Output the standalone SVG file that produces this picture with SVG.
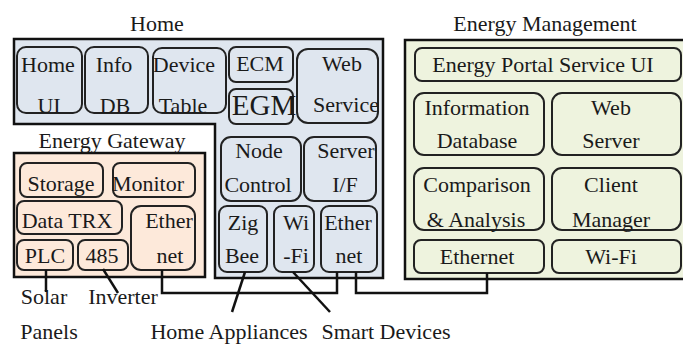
<svg xmlns="http://www.w3.org/2000/svg" width="683" height="345" viewBox="0 0 683 345">
<style>
.outer{stroke:#111;stroke-width:2.5}
.box{stroke:#222;stroke-width:2}
.home{fill:#dfe6ef}
.gw{fill:#fde9da}
.em{fill:#eef3de}
.conn{fill:none;stroke:#111;stroke-width:2.5}
</style>
<rect width="683" height="345" fill="#fff"/>
<g font-family="Liberation Serif" font-size="22" fill="#1a1a1a" text-anchor="middle">
<g id="home">
<path class="outer home" d="M14,39 H383 V278 H215 V124 H14 Z"/>
<text x="157" y="31">Home</text>
</g>
<g id="energy-gateway">
<rect class="outer gw" x="14" y="153" width="191" height="124"/>
<text x="112" y="148">Energy Gateway</text>
</g>
<g id="energy-management">
<rect class="outer em" x="405" y="40" width="280" height="239"/>
<text x="545" y="31">Energy Management</text>
</g>
<g id="home-ui"><rect class="box home" x="17" y="47" width="65" height="66" rx="9"/><text x="48" y="72">Home</text><text x="49" y="113">UI</text></g>
<g id="info-db"><rect class="box home" x="85" y="47" width="63" height="66" rx="9"/><text x="114" y="72">Info</text><text x="115" y="113">DB</text></g>
<g id="device-table"><rect class="box home" x="153" y="48" width="73" height="65" rx="9"/><text x="184" y="72">Device</text><text x="183" y="113">Table</text></g>
<g id="ecm"><rect class="box home" x="229" y="47" width="64" height="35" rx="7"/><text x="260" y="71">ECM</text></g>
<g id="egm"><rect class="box home" x="229" y="89" width="64" height="35" rx="7"/><text x="264" y="115" font-size="29">EGM</text></g>
<g id="web-service"><rect class="box home" x="297" y="49" width="81" height="74" rx="11"/><text x="342" y="71">Web</text><text x="346" y="112">Service</text></g>
<g id="node-control"><rect class="box home" x="221" y="137" width="80" height="64" rx="10"/><text x="259" y="158">Node</text><text x="258" y="192">Control</text></g>
<g id="server-if"><rect class="box home" x="304" y="137" width="72" height="64" rx="10"/><text x="346" y="158">Server</text><text x="345" y="192">I/F</text></g>
<g id="zigbee"><rect class="box home" x="219" y="206" width="48" height="66" rx="8"/><text x="243" y="230">Zig</text><text x="242" y="263">Bee</text></g>
<g id="wifi-home"><rect class="box home" x="274" y="206" width="40" height="66" rx="8"/><text x="296" y="230">Wi</text><text x="296" y="263">-Fi</text></g>
<g id="ethernet-home"><rect class="box home" x="321" y="206" width="56" height="66" rx="8"/><text x="348" y="230">Ether</text><text x="349" y="263">net</text></g>
<g id="storage"><rect class="box gw" x="20" y="163" width="83" height="34" rx="7"/><text x="61" y="191">Storage</text></g>
<g id="monitor"><rect class="box gw" x="113" y="163" width="82" height="34" rx="7"/><text x="148" y="191">Monitor</text></g>
<g id="data-trx"><rect class="box gw" x="17" y="201" width="105" height="33" rx="7"/><text x="67" y="228">Data TRX</text></g>
<g id="ethernet-gw"><rect class="box gw" x="131" y="206" width="64" height="64" rx="10"/><text x="169" y="228">Ether</text><text x="170" y="263">net</text></g>
<g id="plc"><rect class="box gw" x="17" y="240" width="56" height="30" rx="7"/><text x="45" y="263">PLC</text></g>
<g id="rs485"><rect class="box gw" x="78" y="240" width="50" height="30" rx="7"/><text x="102" y="263">485</text></g>
<g id="portal-ui"><rect class="box em" x="415" y="48" width="266" height="33" rx="7"/><text x="543" y="72">Energy Portal Service UI</text></g>
<g id="info-database"><rect class="box em" x="414" y="93" width="130" height="62" rx="10"/><text x="477" y="115">Information</text><text x="477" y="148">Database</text></g>
<g id="web-server"><rect class="box em" x="552" y="93" width="129" height="62" rx="10"/><text x="611" y="115">Web</text><text x="611" y="148">Server</text></g>
<g id="comparison"><rect class="box em" x="414" y="168" width="130" height="62" rx="10"/><text x="477" y="192">Comparison</text><text x="476" y="227">&amp; Analysis</text></g>
<g id="client-manager"><rect class="box em" x="552" y="168" width="129" height="62" rx="10"/><text x="611" y="192">Client</text><text x="611" y="227">Manager</text></g>
<g id="ethernet-em"><rect class="box em" x="414" y="240" width="130" height="33" rx="7"/><text x="477" y="264">Ethernet</text></g>
<g id="wifi-em"><rect class="box em" x="552" y="240" width="129" height="33" rx="7"/><text x="611" y="264">Wi-Fi</text></g>
<g id="externals">
<text x="44" y="304">Solar</text>
<text x="49" y="339">Panels</text>
<text x="123" y="304">Inverter</text>
<text x="229" y="339">Home Appliances</text>
<text x="386" y="339">Smart Devices</text>
</g>
</g>
<g id="connectors">
<path class="conn" d="M162,270 V293 H337 V272"/>
<path class="conn" d="M356,272 V293 H487 V273"/>
<path class="conn" d="M46,270 V292"/>
<path class="conn" d="M103,269 L118,293"/>
<path class="conn" d="M245,272 L232,312"/>
<path class="conn" d="M293,272 L330,312"/>
</g>
</svg>
